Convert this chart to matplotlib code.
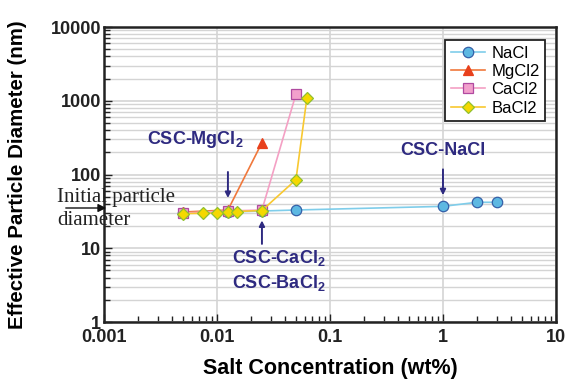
import matplotlib.pyplot as plt
from matplotlib.ticker import LogLocator, NullFormatter, FixedLocator

plt.rcParams["font.family"] = ["Liberation Sans", "DejaVu Sans"]
plt.rcParams["mathtext.fontset"] = "custom"
plt.rcParams["mathtext.bf"] = "Liberation Sans:bold"
plt.rcParams["mathtext.rm"] = "Liberation Sans"

# salt concentration (wt%) and effective particle diameter (nm)
nacl_x = [0.005, 0.0125, 0.025, 0.05, 1, 2, 3]
nacl_y = [30, 31, 32, 33, 37, 42, 42]
mgcl2_x = [0.005, 0.0125, 0.025]
mgcl2_y = [31, 33, 270]
cacl2_x = [0.005, 0.0125, 0.025, 0.05]
cacl2_y = [30, 32, 33, 1230]
bacl2_x = [0.005, 0.0075, 0.01, 0.0125, 0.015, 0.025, 0.05, 0.0625]
bacl2_y = [29.5, 29.8, 30.2, 31, 31.5, 32.5, 85, 1100]

x_ticks = [0.001, 0.01, 0.1, 1, 10]
x_ticklabels = ["0.001", "0.01", "0.1", "1", "10"]
y_ticks = [1, 10, 100, 1000, 10000]
y_ticklabels = ["1", "10", "100", "1000", "10000"]

ann_color = "#2e2a80"

fig = plt.figure(figsize=(5.66, 3.88), dpi=100)
ax = fig.add_axes([0.1837, 0.1701, 0.7986, 0.7603])
ax.set_xscale("log")
ax.set_yscale("log")
ax.set_xlim(0.001, 10)
ax.set_ylim(1, 10000)

# grid: vertical at decades, horizontal at every minor step
ax.xaxis.set_major_locator(FixedLocator(x_ticks))
ax.yaxis.set_major_locator(FixedLocator(y_ticks))
ax.xaxis.set_minor_locator(LogLocator(base=10, subs=range(2, 10)))
ax.yaxis.set_minor_locator(LogLocator(base=10, subs=range(2, 10)))
ax.xaxis.set_minor_formatter(NullFormatter())
ax.yaxis.set_minor_formatter(NullFormatter())
ax.set_xticklabels(x_ticklabels, fontsize=13, fontweight="bold")
ax.set_yticklabels(y_ticklabels, fontsize=13, fontweight="bold")
ax.grid(True, which="major", axis="both", color="#d4d4d4", lw=1.2)
ax.grid(True, which="minor", axis="y", color="#d4d4d4", lw=1.0)
ax.set_axisbelow(True)
ax.tick_params(which="both", direction="in", top=False, right=False,
               colors="#222222", width=1.0)
ax.tick_params(which="major", length=6, pad=2)
ax.tick_params(which="minor", length=4)
ax.tick_params(axis="x", pad=5)
for s in ax.spines.values():
    s.set_linewidth(1.8)
    s.set_color("#222222")

ax.plot(nacl_x, nacl_y, "-o", color="#7fcdea", lw=1.2, ms=7.5,
        mfc="#5db8e2", mec="#3560a8", mew=0.9, label="NaCl", zorder=3)
ax.plot(mgcl2_x, mgcl2_y, "-^", color="#f0783c", lw=1.2, ms=7.5,
        mfc="#e8401c", mec="#e8401c", mew=0.9, label="MgCl2", zorder=4)
ax.plot(cacl2_x, cacl2_y, "-s", color="#f4a0c4", lw=1.2, ms=7.5,
        mfc="#f2a0cc", mec="#b04aa0", mew=0.9, label="CaCl2", zorder=5)
ax.plot(bacl2_x, bacl2_y, "-D", color="#f8c830", lw=1.2, ms=6.5,
        mfc="#f5d800", mec="#90c030", mew=0.9, label="BaCl2", zorder=6)

leg = ax.legend(loc="upper right", fontsize=12, frameon=True, fancybox=False,
                edgecolor="#222222", framealpha=1, borderpad=0.35,
                handlelength=2.0, handletextpad=0.4, labelspacing=0.2,
                bbox_to_anchor=(0.995, 0.985))
leg.get_frame().set_linewidth(1.3)

# CSC annotations
arrow = dict(arrowstyle="-|>", color=ann_color, lw=1.4, mutation_scale=8)
ax.annotate("", xy=(0.0125, 44), xytext=(0.0125, 118), arrowprops=arrow)
ax.annotate("", xy=(0.025, 26), xytext=(0.025, 10.5), arrowprops=arrow)
ax.annotate("", xy=(1, 48), xytext=(1, 128), arrowprops=arrow)
ax.text(0.0024, 300, r"CSC-MgCl$_\mathbf{2}$", color=ann_color, fontsize=13,
        fontweight="bold", va="center", ha="left")
ax.text(0.0136, 7.4, r"CSC-CaCl$_\mathbf{2}$", color=ann_color, fontsize=13,
        fontweight="bold", va="center", ha="left")
ax.text(0.0136, 3.4, r"CSC-BaCl$_\mathbf{2}$", color=ann_color, fontsize=13,
        fontweight="bold", va="center", ha="left")
ax.text(1, 214, "CSC-NaCl", color=ann_color, fontsize=13,
        fontweight="bold", va="center", ha="center")

# initial particle diameter marker on the y axis
fig.text(57 / 566, 1 - 202 / 388, "Initial particle", fontsize=15,
         family="Liberation Serif", va="baseline", ha="left", color="#222222")
fig.text(57 / 566, 1 - 225 / 388, "diameter", fontsize=15,
         family="Liberation Serif", va="baseline", ha="left", color="#222222")
ax.annotate("", xy=(109 / 566, 1 - 208 / 388), xycoords="figure fraction",
            xytext=(63 / 566, 1 - 208 / 388), textcoords="figure fraction",
            arrowprops=dict(arrowstyle="-|>", color="#111111", lw=1.0,
                            mutation_scale=12), annotation_clip=False)

ax.set_xlabel("Salt Concentration (wt%)", fontsize=15.5, fontweight="bold",
              labelpad=9)
fig.text(18 / 566, 1 - 175 / 388, "Effective Particle Diameter (nm)",
         fontsize=14.8, fontweight="bold", rotation=90, va="center", ha="center")

fig.savefig("out.png", dpi=100)
